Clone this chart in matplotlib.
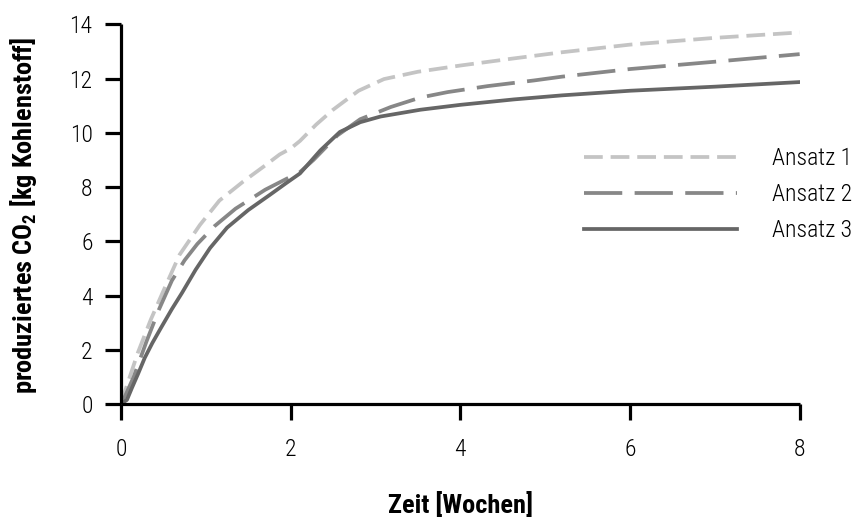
import numpy as np
import matplotlib.pyplot as plt

plt.rcParams['font.family'] = ['Roboto Condensed', 'DejaVu Sans']
plt.rcParams['mathtext.fontset'] = 'custom'
plt.rcParams['mathtext.bf'] = 'Roboto Condensed:bold'
plt.rcParams['mathtext.rm'] = 'Roboto Condensed'

# values (Zeit in Wochen, CO2 in kg)
x1 = [0, 0.05, 0.2, 0.35, 0.49, 0.69, 0.93, 1.16, 1.44, 1.68, 1.87, 2.0, 2.11,
      2.3, 2.5, 2.8, 3.1, 3.5, 4.0, 4.6, 5.2, 6.0, 7.0, 8.0]
y1 = [0, 0.5, 1.9, 3.1, 4.1, 5.5, 6.6, 7.5, 8.2, 8.75, 9.2, 9.42, 9.7,
      10.3, 10.85, 11.55, 11.98, 12.25, 12.48, 12.73, 12.97, 13.25, 13.5, 13.7]

x2 = [0, 0.05, 0.15, 0.3, 0.45, 0.6, 0.75, 0.9, 1.1, 1.35, 1.7, 1.95, 2.11,
      2.27, 2.55, 2.82, 3.18, 3.53, 3.85, 4.32, 4.87, 5.2, 6.0, 7.0, 8.0]
y2 = [0, 0.3, 1.0, 2.3, 3.5, 4.55, 5.3, 5.9, 6.55, 7.2, 7.9, 8.3, 8.55,
      9.0, 9.9, 10.5, 10.95, 11.3, 11.5, 11.72, 11.93, 12.07, 12.35, 12.62, 12.9]

x3 = [0, 0.07, 0.13, 0.2, 0.28, 0.37, 0.47, 0.6, 0.72, 0.88, 1.05, 1.25, 1.5,
      1.75, 1.95, 2.11, 2.35, 2.58, 2.82, 3.06, 3.53, 4.0, 4.63, 5.2, 6.0, 7.0, 8.0]
y3 = [0, 0.15, 0.6, 1.1, 1.7, 2.25, 2.8, 3.5, 4.1, 4.95, 5.75, 6.5, 7.15,
      7.7, 8.15, 8.5, 9.35, 10.03, 10.39, 10.6, 10.85, 11.03, 11.23, 11.38, 11.55, 11.7, 11.87]

labels = ['Ansatz 1', 'Ansatz 2', 'Ansatz 3']
xticks = [0, 2, 4, 6, 8]
yticks = [0, 2, 4, 6, 8, 10, 12, 14]

fig = plt.figure(figsize=(8.58, 5.17), dpi=100)
ax = fig.add_axes([0.141, 0.2186, 0.791, 0.7344])

lw = 2.7
ax.plot(x1, y1, color='#c4c4c4', lw=lw, dashes=(5.0, 2.1), label=labels[0],
        dash_joinstyle='round')
ax.plot(x2, y2, color='#878787', lw=lw, dashes=(10.2, 3.3), label=labels[1],
        dash_joinstyle='round')
ax.plot(x3, y3, color='#666666', lw=lw, label=labels[2],
        solid_joinstyle='round')

ax.set_xlim(0, 8)
ax.set_ylim(0, 14)
ax.set_xticks(xticks)
ax.set_yticks(yticks)
for s in ['top', 'right']:
    ax.spines[s].set_visible(False)
for s in ['left', 'bottom']:
    ax.spines[s].set_linewidth(2.3)
    ax.spines[s].set_capstyle('butt')
ax.tick_params(width=2.3, length=11.5, labelsize=17)
ax.tick_params(axis='y', pad=9)
ax.tick_params(axis='x', pad=13)
for t in ax.get_xticklabels() + ax.get_yticklabels():
    t.set_fontweight('light')

fig.text(460 / 858, 1 - 513 / 517, 'Zeit [Wochen]', fontsize=19,
         fontweight='bold', ha='center', va='baseline')
fig.text(24 / 858, 1 - 215 / 517, r'produziertes CO$_\mathbf{2}$ [kg Kohlenstoff]',
         fontsize=19, fontweight='bold', rotation=90, ha='center', va='center')

leg = fig.legend(loc='center left', bbox_to_anchor=(0.681, 0.623), frameon=False,
                 fontsize=17, handlelength=6.45, handletextpad=1.5,
                 labelspacing=0.55, borderpad=0, borderaxespad=0)
for t in leg.get_texts():
    t.set_fontweight('light')

fig.savefig('out.png', dpi=100)
